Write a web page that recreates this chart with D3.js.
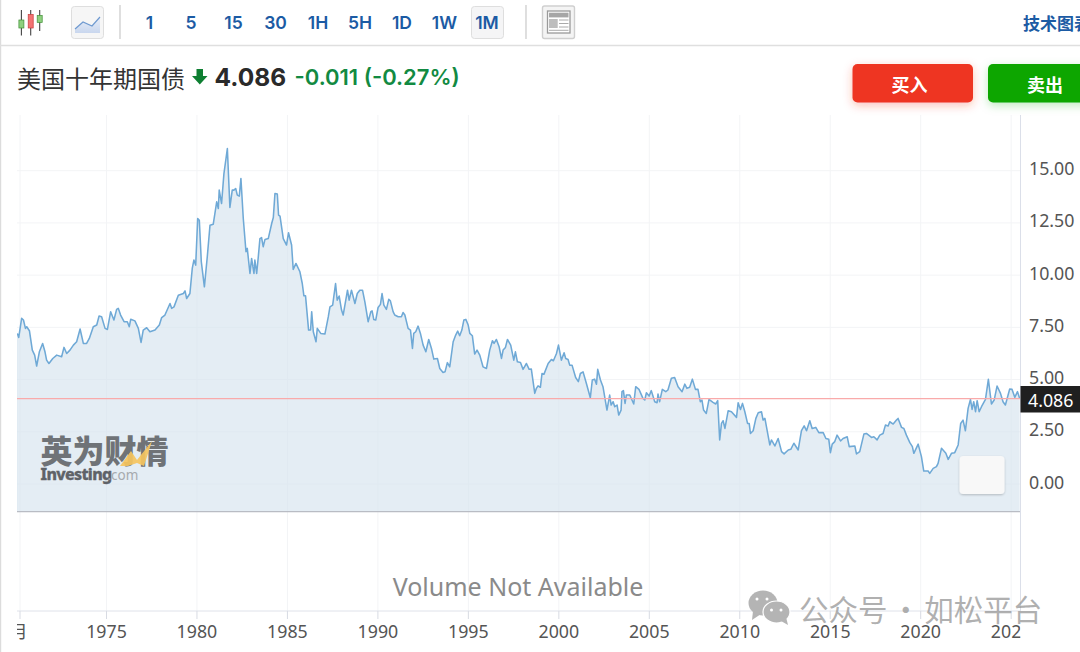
<!DOCTYPE html>
<html><head><meta charset="utf-8">
<script src="https://cdn.jsdelivr.net/npm/d3@7"></script>
<style>
html,body{margin:0;padding:0;background:#fff;overflow:hidden;width:1080px;height:652px}
svg{display:block}
text{font-family:"Noto Sans","Noto Sans CJK SC",sans-serif}
</style></head><body><div id="c"></div>
<script>
const years=[1970.07,1970.15,1970.31,1970.41,1970.52,1970.59,1970.74,1970.90,1971.03,1971.14,1971.29,1971.47,1971.60,1971.69,1971.82,1972.03,1972.25,1972.52,1972.65,1972.80,1972.98,1973.17,1973.35,1973.54,1973.72,1973.90,1974.05,1974.27,1974.46,1974.59,1974.73,1974.92,1975.05,1975.23,1975.41,1975.56,1975.65,1975.78,1975.97,1976.15,1976.26,1976.34,1976.57,1976.76,1976.91,1977.03,1977.22,1977.40,1977.68,1977.92,1978.05,1978.23,1978.51,1978.60,1978.73,1978.97,1979.25,1979.34,1979.43,1979.61,1979.74,1979.83,1979.93,1980.04,1980.13,1980.24,1980.41,1980.57,1980.72,1980.90,1981.09,1981.18,1981.23,1981.36,1981.49,1981.68,1981.82,1981.95,1982.04,1982.14,1982.23,1982.34,1982.43,1982.56,1982.71,1982.78,1982.93,1983.02,1983.15,1983.20,1983.30,1983.39,1983.48,1983.57,1983.66,1983.76,1983.94,1984.13,1984.22,1984.31,1984.44,1984.51,1984.59,1984.77,1984.95,1985.06,1985.23,1985.32,1985.47,1985.69,1985.82,1985.91,1986.00,1986.17,1986.28,1986.34,1986.43,1986.58,1986.65,1986.84,1987.07,1987.26,1987.35,1987.50,1987.66,1987.75,1987.86,1987.99,1988.08,1988.32,1988.41,1988.54,1988.73,1988.86,
1989.00,1989.15,1989.28,1989.46,1989.61,1989.68,1989.77,1989.88,1990.01,1990.14,1990.23,1990.33,1990.47,1990.60,1990.69,1990.84,1990.93,1991.12,1991.30,1991.39,1991.49,1991.67,1991.80,1991.91,1991.98,1992.09,1992.22,1992.35,1992.50,1992.65,1992.81,1992.96,1993.09,1993.29,1993.42,1993.60,1993.71,1993.84,1993.97,1994.16,1994.30,1994.41,1994.52,1994.64,1994.75,1994.86,1994.99,1995.08,1995.22,1995.35,1995.48,1995.63,1995.81,1996.00,1996.18,1996.33,1996.42,1996.55,1996.70,1996.83,1996.92,1997.05,1997.16,1997.34,1997.51,1997.60,1997.71,1997.88,1998.02,1998.21,1998.36,1998.48,1998.67,1998.76,1998.85,1998.98,1999.07,1999.18,1999.41,1999.59,1999.70,1999.87,1999.98,2000.14,2000.29,2000.38,2000.51,2000.60,2000.73,2000.93,2001.08,2001.19,2001.34,2001.52,2001.74,2001.85,2001.98,2002.08,2002.15,2002.30,2002.44,2002.66,2002.81,2002.89,2003.00,2003.09,2003.22,2003.31,2003.44,2003.49,2003.57,2003.66,2003.73,2003.92,2004.14,2004.25,2004.43,2004.65,2004.75,2004.84,2004.99,2005.11,2005.30,2005.43,2005.48,2005.57,2005.72,2005.91,2006.03,2006.22,2006.40,2006.59,2006.81,2006.96,2007.08,2007.23,2007.38,2007.55,2007.69,2007.82,2007.91,2008.00,2008.15,2008.30,2008.52,2008.67,2008.78,2008.89,
2008.99,2009.08,2009.18,2009.36,2009.54,2009.82,2009.91,2010.04,2010.15,2010.28,2010.43,2010.52,2010.59,2010.74,2010.89,2011.02,2011.20,2011.29,2011.39,2011.66,2011.75,2011.94,2012.12,2012.31,2012.45,2012.68,2012.82,2012.99,2013.23,2013.41,2013.56,2013.69,2013.87,2014.00,2014.20,2014.37,2014.61,2014.76,2014.92,2015.01,2015.11,2015.25,2015.38,2015.57,2015.71,2015.94,2016.05,2016.36,2016.45,2016.63,2016.86,2017.00,2017.28,2017.41,2017.59,2017.74,2017.92,2018.05,2018.20,2018.29,2018.48,2018.66,2018.75,2018.94,2019.07,2019.21,2019.40,2019.54,2019.62,2019.86,2020.04,2020.17,2020.41,2020.50,2020.69,2020.87,2020.96,2021.15,2021.39,2021.52,2021.70,2021.88,2022.07,2022.21,2022.34,2022.47,2022.62,2022.75,2022.84,2022.93,2023.03,2023.12,2023.23,2023.36,2023.58,2023.74,2023.91,2024.06,2024.22,2024.41,2024.55,2024.68,2024.83,2024.92,2025.05,2025.20,2025.35,2025.47];
const yields=[7.21,7.02,7.93,7.85,7.45,7.53,7.34,6.41,6.17,5.65,6.33,6.73,6.33,5.93,5.77,6.01,6.17,6.09,6.54,6.25,6.41,6.65,6.81,7.42,6.73,6.73,6.97,7.53,7.61,8.04,8.01,7.45,7.40,8.25,7.85,8.36,8.41,8.09,7.77,7.77,7.53,7.89,7.81,7.45,6.78,7.37,7.48,7.29,7.37,7.61,7.97,8.09,8.64,8.41,8.48,9.04,9.12,9.25,8.88,9.12,10.32,10.72,10.48,12.71,12.63,10.64,9.44,10.88,12.39,12.44,13.51,13.19,14.07,13.43,14.86,16.06,13.24,14.07,14.07,14.15,13.83,13.78,14.63,12.71,11.12,11.28,10.08,10.80,10.08,10.72,10.08,10.88,11.75,11.80,11.36,11.71,11.75,12.47,12.76,13.91,13.88,12.87,12.82,11.75,11.44,12.03,11.44,10.27,10.56,10.16,9.60,9.01,9.01,7.37,7.37,8.25,7.29,6.81,7.45,7.21,7.18,8.01,8.48,8.56,9.60,8.80,9.00,8.33,8.09,9.28,8.80,9.28,8.64,9.12,
9.28,9.28,8.72,7.77,8.25,8.29,7.88,7.85,8.45,8.60,9.12,8.56,8.36,8.84,8.77,8.25,8.09,8.01,8.01,8.21,8.09,7.45,7.37,6.49,7.21,7.29,7.56,7.21,6.65,6.33,6.92,6.49,5.98,6.01,5.53,5.34,5.37,5.81,5.61,6.81,7.13,7.32,7.10,7.37,7.85,7.88,7.61,7.21,7.10,6.22,6.41,6.17,5.61,5.53,6.41,6.86,6.73,6.92,6.57,6.01,6.41,6.54,6.92,6.65,5.93,6.33,5.85,5.82,5.49,5.77,5.49,5.50,4.34,4.58,4.70,4.63,5.29,5.26,5.77,5.96,5.90,6.25,6.65,5.93,6.28,6.01,5.96,5.69,5.69,5.10,4.90,5.29,5.37,4.82,4.13,4.98,5.02,4.78,5.49,4.98,4.66,3.54,4.26,3.78,3.94,3.70,3.78,3.30,3.54,4.42,4.47,3.86,4.26,4.26,3.83,4.66,4.53,4.10,4.02,4.37,4.21,4.47,3.94,3.89,4.31,3.94,4.53,4.42,4.50,5.06,5.10,4.66,4.42,4.78,4.58,4.63,5.02,4.53,4.53,3.94,4.02,3.54,3.38,4.05,3.91,3.83,3.99,2.11,
2.90,3.03,2.66,3.51,3.46,3.19,3.89,3.57,3.86,3.46,2.90,2.90,2.42,2.55,3.14,3.41,3.46,3.06,3.14,1.87,2.11,1.82,2.18,1.55,1.44,1.63,1.66,1.95,1.63,2.55,2.78,2.55,3.03,2.66,2.71,2.46,2.46,2.18,2.14,1.50,1.91,2.03,2.34,2.06,2.18,2.26,1.79,1.82,1.44,1.55,2.39,2.42,2.23,2.26,2.11,2.34,2.42,2.82,2.78,2.98,2.87,3.06,3.14,2.71,2.66,2.34,1.98,1.79,1.47,1.91,1.31,0.62,0.62,0.51,0.75,0.83,0.99,1.71,1.47,1.18,1.47,1.50,1.87,2.90,3.06,2.55,3.62,4.05,3.57,3.94,3.46,3.99,3.46,3.70,4.05,5.01,3.83,4.02,4.69,4.34,3.94,3.78,4.26,4.55,4.53,4.15,4.42,4.09];
const xTickYears=[1975,1980,1985,1990,1995,2000,2005,2010,2015,2020,2025];
const yTickValues=[0,2.5,5,7.5,10,12.5,15];
const lastPrice=4.086;
const title="美国十年期国债", change="-0.011 (-0.27%)";
const tabs=["1","5","15","30","1H","5H","1D","1W","1M"];

const W=1080,H=652,plotL=17,plotR=1020.5,plotT=115,axisY=611,floorY=511.7;
const x=d3.scaleLinear().domain([1975,2020]).range([106.5,920.7]);
const y=d3.scaleLinear().domain([0,15]).range([484,170.7]);
const svg=d3.select("#c").append("svg").attr("width",W).attr("height",H);
const defs=svg.append("defs");
const clip=defs.append("clipPath").attr("id","plot");
clip.append("rect").attr("x",plotL).attr("y",plotT).attr("width",plotR-plotL).attr("height",H-plotT);
const f1=defs.append("filter").attr("id","shR").attr("x","-30%").attr("y","-50%").attr("width","160%").attr("height","220%");
f1.append("feDropShadow").attr("dx",0).attr("dy",3).attr("stdDeviation",5).attr("flood-color","#ee3524").attr("flood-opacity",.3);
const f2=defs.append("filter").attr("id","shG").attr("x","-30%").attr("y","-50%").attr("width","160%").attr("height","220%");
f2.append("feDropShadow").attr("dx",0).attr("dy",3).attr("stdDeviation",5).attr("flood-color","#0ca600").attr("flood-opacity",.25);
const f3=defs.append("filter").attr("id","shB").attr("x","-30%").attr("y","-30%").attr("width","160%").attr("height","160%");
f3.append("feDropShadow").attr("dx",0).attr("dy",1).attr("stdDeviation",1.2).attr("flood-color","#000").attr("flood-opacity",.22);
const areaGrad=defs.append("linearGradient").attr("id","iconFill").attr("x1",0).attr("x2",0).attr("y1",0).attr("y2",1);
areaGrad.append("stop").attr("offset",0).attr("stop-color","#e9eef8");
areaGrad.append("stop").attr("offset",1).attr("stop-color","#c9d7ee");

// left edge + toolbar rule
svg.append("rect").attr("x",0).attr("y",0).attr("width",1.2).attr("height",H).attr("fill","#dcdcdc");
svg.append("line").attr("x1",0).attr("x2",W).attr("y1",45.5).attr("y2",45.5).attr("stroke","#dfdfdf").attr("stroke-width",1.4);

// grid
const grid=svg.append("g");
const vGrid=[20].concat(xTickYears.map(v=>x(v)));
grid.selectAll("line.v").data(vGrid).join("line").attr("class","v")
  .attr("x1",d=>d).attr("x2",d=>d).attr("y1",plotT).attr("y2",axisY).attr("stroke","#f3f4f6").attr("stroke-width",1);
grid.selectAll("line.h").data(yTickValues).join("line").attr("class","h")
  .attr("x1",plotL).attr("x2",plotR).attr("y1",d=>y(d)).attr("y2",d=>y(d)).attr("stroke","#f3f4f6").attr("stroke-width",1);

// area + line
const pts=years.map((yr,i)=>[yr,yields[i]]);
const plot=svg.append("g").attr("clip-path","url(#plot)");
plot.append("path").datum(pts).attr("fill","#d5e3ee").attr("fill-opacity",.65)
  .attr("d",d3.area().x(d=>x(d[0])).y0(floorY).y1(d=>y(d[1])).curve(d3.curveLinear));
plot.append("rect").attr("x",plotL).attr("width",x(years[0])-plotL+.5).attr("y",y(yields[0])).attr("height",floorY-y(yields[0])).attr("fill","#d5e3ee").attr("fill-opacity",.65);
plot.append("path").datum(pts).attr("fill","none").attr("stroke","#6fa9d6").attr("stroke-width",1.55)
  .attr("stroke-linejoin","round")
  .attr("d",d3.line().x(d=>x(d[0])).y(d=>y(d[1])));
svg.append("line").attr("x1",plotL).attr("x2",plotR).attr("y1",floorY).attr("y2",floorY).attr("stroke","#b9bcc4").attr("stroke-width",1.2);
svg.append("line").attr("x1",plotL).attr("x2",plotR).attr("y1",y(lastPrice)).attr("y2",y(lastPrice)).attr("stroke","#f9aaaa").attr("stroke-width",1.3);

// axes
svg.append("line").attr("x1",plotR).attr("x2",plotR).attr("y1",plotT).attr("y2",axisY).attr("stroke","#dbdfe9").attr("stroke-width",1);
svg.append("line").attr("x1",plotL).attr("x2",plotR).attr("y1",axisY).attr("y2",axisY).attr("stroke","#dfe2ea").attr("stroke-width",1);
const xa=svg.append("g").attr("clip-path","url(#plot)");
xa.selectAll("line").data(vGrid).join("line").attr("x1",d=>d).attr("x2",d=>d).attr("y1",axisY).attr("y2",axisY+8).attr("stroke","#d8dbe3");
xa.selectAll("text.t").data(xTickYears).join("text").attr("class","t")
  .attr("x",d=>x(d)).attr("y",637.5).attr("text-anchor","middle").attr("font-size",17.8).attr("fill","#555").text(d=>d);
xa.append("text").attr("x",27.5).attr("y",637.5).attr("text-anchor","end").attr("font-size",17.6).attr("fill","#555").text("1月");
svg.append("g").selectAll("text").data(yTickValues).join("text")
  .attr("x",1029).attr("y",d=>y(d)-2.5).attr("dominant-baseline","central").attr("font-size",17.8).attr("fill","#555").text(d=>d.toFixed(2));
svg.append("rect").attr("x",plotR).attr("y",386).attr("width",W-plotR).attr("height",26.5).attr("fill","#1f1f1f");
svg.append("text").attr("x",1028).attr("y",399.5).attr("dominant-baseline","central").attr("font-size",17.8).attr("fill","#fff").text(lastPrice.toFixed(3));

// empty floating box
svg.append("rect").attr("x",959.5).attr("y",456).attr("width",45).attr("height",38).attr("rx",4).attr("fill","#f8f8f8").attr("filter","url(#shB)");

// volume caption
svg.append("text").attr("x",518).attr("y",586).attr("text-anchor","middle").attr("dominant-baseline","central").attr("font-size",25).attr("fill","#8a8a8a").text("Volume Not Available");

// logo
const logo=svg.append("g");
logo.append("text").attr("x",40.5).attr("y",463).attr("font-size",32).attr("font-weight",900).attr("fill","#6f7377")
  .attr("style",'font-family:"Noto Sans CJK SC"').text("英为财情");
logo.append("path").attr("d","M120 466 L131 451 L137 460 L152 441 L144 466 L137 463 L128 466 Z").attr("fill","#f5c45e").attr("fill-opacity",.92);
logo.append("text").attr("x",40.5).attr("y",480).attr("font-size",16).attr("font-weight",800).attr("fill","#5f6368").attr("stroke","#5f6368").attr("stroke-width",.3).attr("letter-spacing",-.7).text("Investing");
logo.append("text").attr("x",107.5).attr("y",480).attr("font-size",13.5).attr("fill","#a6aaae").text(".com");

// header texts
svg.append("text").attr("x",17).attr("y",77).attr("dominant-baseline","central").attr("font-size",24).attr("fill","#333")
  .attr("style",'font-family:"Noto Sans CJK SC"').text(title);
svg.append("path").attr("d","M196.5 69 H203 V76 H207.5 L199.8 84.5 L192 76 H196.5 Z").attr("fill","#0e7f32");
svg.append("text").attr("x",214.5).attr("y",77).attr("dominant-baseline","central").attr("font-size",24.5).attr("font-weight",700).attr("fill","#2a2a2a")
  .attr("style",'font-family:Inter').text(lastPrice.toFixed(3));
svg.append("text").attr("x",294.5).attr("y",77).attr("dominant-baseline","central").attr("font-size",22).attr("font-weight",600).attr("fill","#128a42")
  .attr("style",'font-family:Inter').text(change);

// buttons
svg.append("rect").attr("x",852.5).attr("y",64).attr("width",120.5).attr("height",38.5).attr("rx",5).attr("fill","#ee3524").attr("filter","url(#shR)");
svg.append("text").attr("x",909.5).attr("y",84).attr("text-anchor","middle").attr("dominant-baseline","central").attr("font-size",18).attr("font-weight",700).attr("fill","#fff")
  .attr("style",'font-family:"Noto Sans CJK SC"').text("买入");
svg.append("rect").attr("x",988).attr("y",64).attr("width",110).attr("height",38.5).attr("rx",5).attr("fill","#0ca600").attr("filter","url(#shG)");
svg.append("text").attr("x",1045).attr("y",84).attr("text-anchor","middle").attr("dominant-baseline","central").attr("font-size",18).attr("font-weight",700).attr("fill","#fff")
  .attr("style",'font-family:"Noto Sans CJK SC"').text("卖出");

// toolbar
const tb=svg.append("g");
const tabX=[149.5,191,233.5,275.5,318,360,402,444.5,487];
tb.append("rect").attr("x",471.5).attr("y",6.5).attr("width",32).attr("height",32).attr("rx",3).attr("fill","#f5f5f6").attr("stroke","#dedede");
tb.selectAll("text.tab").data(tabs).join("text").attr("class","tab").attr("x",(d,i)=>tabX[i]).attr("y",22)
  .attr("text-anchor","middle").attr("dominant-baseline","central").attr("font-size",17.5).attr("font-weight",600).attr("fill","#1c5ba4")
  .attr("style","font-family:Inter").text(d=>d);
tb.selectAll("line.sep").data([120,526]).join("line").attr("class","sep").attr("x1",d=>d).attr("x2",d=>d).attr("y1",5).attr("y2",39).attr("stroke","#c9c9c9").attr("stroke-width",1.2);
// candle icon
[[21.4,10,35.5,20,28,"#8ed07e","#3f8f35"],[30.7,10,35.5,14.5,28,"#f47474","#c73b3b"],[39.7,10,31,15.5,22.4,"#8ed07e","#3f8f35"]].forEach(c=>{
  tb.append("line").attr("x1",c[0]).attr("x2",c[0]).attr("y1",c[1]).attr("y2",c[2]).attr("stroke","#444").attr("stroke-width",1.1);
  tb.append("rect").attr("x",c[0]-2.5).attr("y",c[3]).attr("width",5).attr("height",c[4]-c[3]).attr("fill",c[5]).attr("stroke",c[6]).attr("stroke-width",.7);
});
// line icon
tb.append("rect").attr("x",71.5).attr("y",6.5).attr("width",32).attr("height",32).attr("rx",3).attr("fill","#f6f6f6").attr("stroke","#dedede");
tb.append("path").attr("d","M75 29 L83 22 L92 26 L100 17 V33 H75 Z").attr("fill","url(#iconFill)");
tb.append("path").attr("d","M75 29 L83 22 L92 26 L100 17").attr("fill","none").attr("stroke","#6f9ad0").attr("stroke-width",1.2);
// layout icon
tb.append("rect").attr("x",542.5).attr("y",6).attr("width",32).attr("height",32.5).attr("rx",2).attr("fill","#f4f4f4").attr("stroke","#cfcfcf").attr("stroke-width",1.4);
tb.append("rect").attr("x",547.5).attr("y",11).attr("width",22.5).attr("height",22).attr("fill","#fff").attr("stroke","#9a9a9a").attr("stroke-width",1.3);
tb.append("rect").attr("x",549).attr("y",12.7).attr("width",19.5).attr("height",4.7).attr("fill","#a6a6a6");
tb.append("rect").attr("x",549).attr("y",19).attr("width",8.7).attr("height",9).attr("fill","#bdbdbd");
tb.selectAll("line.ly").data([20,23.5,27]).join("line").attr("class","ly").attr("x1",559).attr("x2",568.5).attr("y1",d=>d).attr("y2",d=>d).attr("stroke","#aaa").attr("stroke-width",1);
tb.append("line").attr("x1",549).attr("x2",568.5).attr("y1",30.3).attr("y2",30.3).attr("stroke","#aaa").attr("stroke-width",1);
svg.append("text").attr("x",1023).attr("y",22).attr("dominant-baseline","central").attr("font-size",17).attr("font-weight",700).attr("fill","#1c5ba4")
  .attr("style",'font-family:"Noto Sans CJK SC"').text("技术图表");

// wechat watermark
const wm=svg.append("g");
wm.append("ellipse").attr("cx",763).attr("cy",603).attr("rx",14.5).attr("ry",12.5).attr("fill","#b4b4b4");
wm.append("path").attr("d","M753 611 L752 620 L761 614 Z").attr("fill","#b4b4b4");
wm.append("ellipse").attr("cx",776.5).attr("cy",612).attr("rx",13.5).attr("ry",11).attr("fill","#b4b4b4").attr("stroke","#fff").attr("stroke-width",1.2);
wm.append("path").attr("d","M781 621 L788 625 L786 617 Z").attr("fill","#b4b4b4");
[[757,599],[767,599],[771.5,610],[781,610]].forEach(p=>wm.append("circle").attr("cx",p[0]).attr("cy",p[1]).attr("r",1.5).attr("fill","#fff"));
wm.append("text").attr("x",799).attr("y",608).attr("dominant-baseline","central").attr("font-size",29.5).attr("fill","#9a9a9a").attr("fill-opacity",.78)
  .attr("style",'font-family:"Noto Sans CJK SC";word-spacing:-3px').text("公众号 · 如松平台");
</script></body></html>
